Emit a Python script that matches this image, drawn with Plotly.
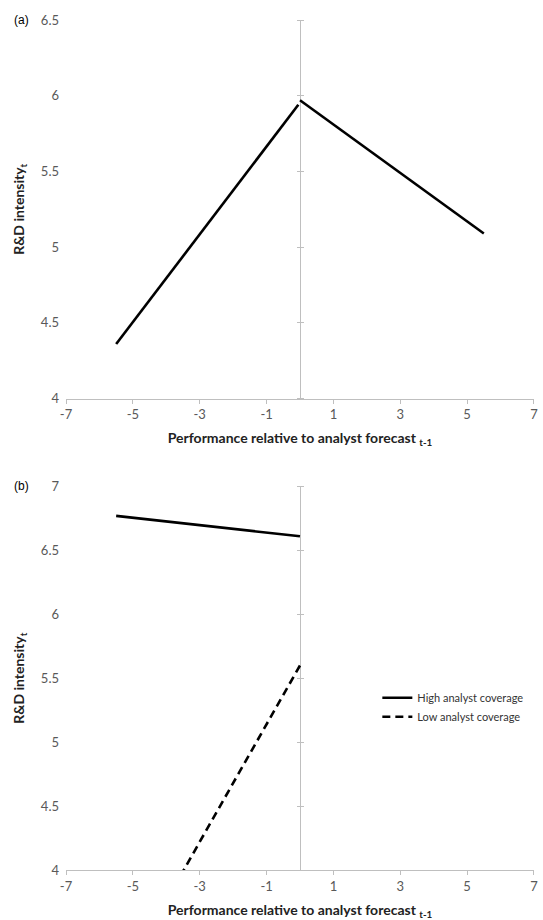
import plotly.graph_objects as go

# Panel (a): R&D intensity vs performance relative to analyst forecast
a_left_x = [-5.5, -0.05]
a_left_y = [4.36, 5.94]
a_right_x = [0.0, 5.5]
a_right_y = [5.97, 5.09]

# Panel (b): by analyst coverage
b_high_x = [-5.5, 0.0]
b_high_y = [6.77, 6.61]
b_low_x = [-5.5, 0.0]
b_low_y = [3.07, 5.6]

x_ticks = [-7, -5, -3, -1, 1, 3, 5, 7]
x_tick_labels = ["-7", "-5", "-3", "-1", "1", "3", "5", "7"]
a_yticks = [4, 4.5, 5, 5.5, 6, 6.5]
b_yticks = [4, 4.5, 5, 5.5, 6, 6.5, 7]

W, H = 543, 920
P_LEFT, P_RIGHT = 66, 538
A_TOP, A_BOT = 20, 399
B_TOP, B_BOT = 487, 871

ML = P_LEFT
MR = W - P_RIGHT
MT = A_TOP
MB = H - B_BOT
PH = H - MT - MB
PW = W - ML - MR

def fy(page_y):
    return (H - MB - page_y) / PH

def fx(page_x):
    return (page_x - ML) / PW

top_dom = [fy(A_BOT), 1.0]
bot_dom = [0.0, fy(B_TOP)]

TICKFONT = dict(family="Lato, Open Sans, sans-serif", size=13, color="#595959")
TITLEFONT = dict(family="Lato, Open Sans, sans-serif", size=14, color="#222222")
AXC = "#BFBFBF"
LINE = dict(color="black", width=2.6)

fig = go.Figure()
fig.add_trace(go.Scatter(x=a_left_x, y=a_left_y, mode="lines", line=LINE,
                         showlegend=False, xaxis="x", yaxis="y"))
fig.add_trace(go.Scatter(x=a_right_x, y=a_right_y, mode="lines", line=LINE,
                         showlegend=False, xaxis="x", yaxis="y"))
fig.add_trace(go.Scatter(x=b_high_x, y=b_high_y, mode="lines", line=LINE,
                         name="High analyst coverage", xaxis="x2", yaxis="y2"))
fig.add_trace(go.Scatter(x=b_low_x, y=b_low_y, mode="lines",
                         line=dict(color="black", width=2.6, dash="8px,5px"),
                         name="Low analyst coverage", xaxis="x2", yaxis="y2"))
# invisible traces to host the centre (x=0) tick axes
for ya, xa, yv in [("y3", "x", a_yticks), ("y4", "x", a_yticks),
                   ("y5", "x2", b_yticks), ("y6", "x2", b_yticks)]:
    fig.add_trace(go.Scatter(x=[0], y=[yv[0]], mode="markers", opacity=0,
                             showlegend=False, hoverinfo="skip", xaxis=xa, yaxis=ya))

mid = 0.5

def xax(anchor, title):
    return dict(domain=[0, 1], anchor=anchor, range=[-7.001, 7.001],
                tickvals=x_ticks, ticktext=x_tick_labels,
                showgrid=False, zeroline=True, zerolinecolor=AXC, zerolinewidth=1,
                showline=True, linecolor=AXC, linewidth=1,
                ticks="outside", ticklen=4, tickcolor=AXC, tickfont=TICKFONT,
                title=dict(text=title, font=TITLEFONT, standoff=12))

xtitle = "<b>Performance relative to analyst forecast <sub>t-1</sub></b>"
ytitle = "<b>R&amp;D intensity<sub>t</sub></b>"

def yax(dom, rng, vals, anchor):
    return dict(domain=dom, anchor=anchor, range=rng, tickvals=vals,
                showgrid=False, zeroline=False, showline=False, ticks="",
                tickfont=TICKFONT, ticklabelstandoff=6,
                title=dict(text=ytitle, font=TITLEFONT, standoff=12))

def cax(over, rng, vals, side):
    return dict(overlaying=over, anchor="free", position=mid, side=side,
                range=rng, tickvals=vals, showticklabels=False, showgrid=False,
                zeroline=False, showline=False, ticks="outside", ticklen=3,
                tickcolor=AXC)

fig.update_layout(
    width=W, height=H,
    margin=dict(l=ML, r=MR, t=MT, b=MB),
    paper_bgcolor="white", plot_bgcolor="white",
    xaxis=xax("y", xtitle),
    yaxis=yax(top_dom, [4, 6.5], a_yticks, "x"),
    xaxis2=xax("y2", xtitle),
    yaxis2=yax(bot_dom, [4, 7], b_yticks, "x2"),
    yaxis3=cax("y", [4, 6.5], a_yticks, "left"),
    yaxis4=cax("y", [4, 6.5], a_yticks, "right"),
    yaxis5=cax("y2", [4, 7], b_yticks, "left"),
    yaxis6=cax("y2", [4, 7], b_yticks, "right"),
    legend=dict(x=fx(380), y=fy(684),
                xanchor="left", yanchor="top", bgcolor="rgba(0,0,0,0)",
                font=dict(family="Lato, Open Sans, sans-serif", size=11, color="#333333"),
                tracegroupgap=0),
    annotations=[
        dict(text="(a)", xref="paper", yref="paper", x=fx(12),
             y=fy(A_TOP), xanchor="left", yanchor="middle", showarrow=False,
             font=dict(family="Liberation Sans, Arial, sans-serif", size=12, color="black")),
        dict(text="(b)", xref="paper", yref="paper", x=fx(12),
             y=fy(B_TOP), xanchor="left", yanchor="middle", showarrow=False,
             font=dict(family="Liberation Sans, Arial, sans-serif", size=12, color="black")),
    ],
)

fig.write_html("out.html", config={"displayModeBar": False},
               post_script="document.body.style.margin='0px';")
